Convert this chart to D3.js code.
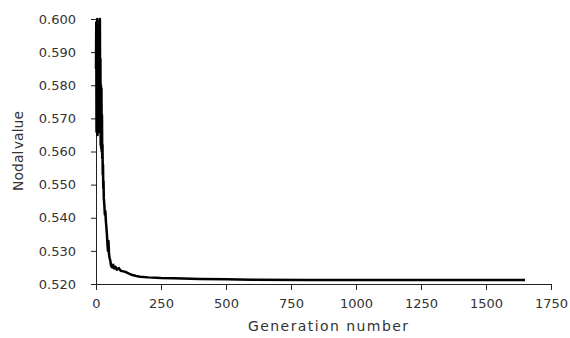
<!DOCTYPE html>
<html>
<head>
<meta charset="utf-8">
<script src="https://cdn.jsdelivr.net/npm/d3@7"></script>
<style>
	body { margin: 0; background: #fff; }
	text { font-family: "DejaVu Sans", sans-serif; fill: #333; }
</style>
</head>
<body>
<div id="chart"></div>
<script>
// generation number and nodal value
var generations = [0, 1, 2, 3, 4, 5, 6, 7, 8, 9, 10, 11, 12, 13, 14, 15, 16, 17, 18, 19,
	20, 21, 22, 23, 24, 25, 26, 27, 28, 29, 30, 32, 34, 36, 38, 40, 42, 44, 46, 48,
	50, 52, 55, 58, 62, 66, 70, 75, 80, 88, 95, 105, 115, 125, 140, 155, 170, 200,
	250, 300, 400, 500, 600, 800, 1000, 1300, 1650];
var nodalValues = [0.585, 0.599, 0.566, 0.597, 0.571, 0.600, 0.565, 0.593, 0.568, 0.598,
	0.566, 0.590, 0.569, 0.596, 0.572, 0.600, 0.575, 0.588, 0.562, 0.580,
	0.561, 0.579, 0.560, 0.571, 0.558, 0.562, 0.553, 0.556, 0.549, 0.551,
	0.546, 0.544, 0.541, 0.542, 0.539, 0.537, 0.535, 0.532, 0.530, 0.533,
	0.529, 0.528, 0.527, 0.5255, 0.5250, 0.5258, 0.5247, 0.5252, 0.5243, 0.5248,
	0.5240, 0.5238, 0.5236, 0.5232, 0.5227, 0.5224, 0.5222, 0.5220,
	0.5218, 0.5217, 0.5215, 0.5214, 0.5213, 0.5212, 0.5212, 0.5212, 0.5212];

var xTicks = [0, 250, 500, 750, 1000, 1250, 1500, 1750];
var yTicks = [0.52, 0.53, 0.54, 0.55, 0.56, 0.57, 0.58, 0.59, 0.60];

var width = 570;
var height = 338;
var margin = {left: 96, right: 19, top: 19, bottom: 54};

var svg = d3.select("#chart").append("svg")
	.attr("width", width)
	.attr("height", height);

var x = d3.scaleLinear().domain([0, 1750]).range([margin.left, width - margin.right]);
var y = d3.scaleLinear().domain([0.52, 0.60]).range([height - margin.bottom, margin.top]);

// axes
var xAxis = svg.append("g")
	.attr("transform", "translate(0," + (height - margin.bottom) + ")")
	.call(d3.axisBottom(x).tickValues(xTicks).tickFormat(d3.format("d")).tickSizeOuter(0).tickSize(6).tickPadding(9));
var yAxis = svg.append("g")
	.attr("transform", "translate(" + margin.left + ",0)")
	.call(d3.axisLeft(y).tickValues(yTicks).tickFormat(d3.format(".3f")).tickSizeOuter(0).tickSize(5).tickPadding(15));

[xAxis, yAxis].forEach(function(g) {
	g.select(".domain").attr("stroke", "#222");
	g.selectAll(".tick line").attr("stroke", "#222");
	g.selectAll(".tick text").style("font-size", "13px").attr("fill", "#333");
});

// the line
var line = d3.line()
	.x(function(d) { return x(d[0]); })
	.y(function(d) { return y(d[1]); });

svg.append("path")
	.datum(d3.zip(generations, nodalValues))
	.attr("fill", "none")
	.attr("stroke", "#000")
	.attr("stroke-width", 2.5)
	.attr("stroke-linejoin", "round")
	.attr("d", line);

// titles
svg.append("text")
	.attr("x", 328)
	.attr("y", 331)
	.attr("text-anchor", "middle")
	.attr("textLength", 160)
	.style("font-size", "14px")
	.text("Generation number");

svg.append("text")
	.attr("transform", "translate(23,151) rotate(-90)")
	.attr("text-anchor", "middle")
	.attr("word-spacing", "-3px")
	.style("font-size", "14px")
	.text("Nodal value");
</script>
</body>
</html>
